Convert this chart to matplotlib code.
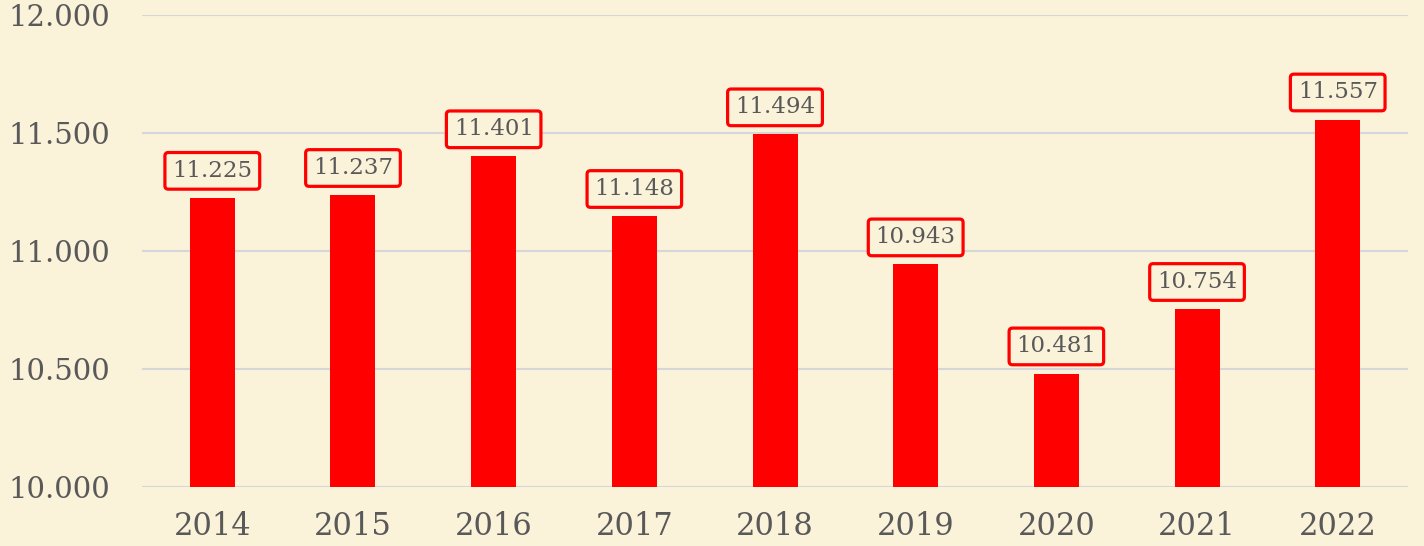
import matplotlib
matplotlib.use("Agg")
import matplotlib.pyplot as plt
from matplotlib.ticker import FuncFormatter

years = ["2014", "2015", "2016", "2017", "2018", "2019", "2020", "2021", "2022"]
values = [11225, 11237, 11401, 11148, 11494, 10943, 10481, 10754, 11557]

bg = "#FBF2DA"
text_color = "#595959"
bar_color = "#FF0000"
grid_color = "#D6D6D9"

plt.rcParams['font.family'] = ['DejaVu Serif']

fig = plt.figure(figsize=(14.24, 5.46), dpi=100, facecolor=bg)
ax = fig.add_axes([0.0997, 0.108, 0.8891, 0.8645])
ax.set_facecolor(bg)

x = range(len(years))
ax.bar(x, values, width=0.32, color=bar_color, zorder=3)

ax.set_ylim(10000, 12000)
ax.set_xlim(-0.5, len(years) - 0.5)
ax.set_yticks([10000, 10500, 11000, 11500, 12000])
ax.yaxis.set_major_formatter(FuncFormatter(lambda v, p: f"{int(v):,}".replace(",", ".")))
ax.set_xticks(list(x))
ax.set_xticklabels(years)
ax.tick_params(axis='both', length=0, colors=text_color)
ax.tick_params(axis='y', pad=23, labelsize=21)
ax.tick_params(axis='x', pad=17, labelsize=22)

ax.grid(axis='y', color=grid_color, linewidth=1.5, zorder=0)
for s in ax.spines.values():
    s.set_visible(False)

for xi, v in zip(x, values):
    ax.annotate(f"{v:,}".replace(",", "."), xy=(xi, v), xytext=(0, 19.5),
                textcoords='offset points', ha='center', va='center',
                fontsize=16.5, color=text_color, zorder=5,
                bbox=dict(boxstyle='round,pad=0.32,rounding_size=0.15',
                          facecolor=bg, edgecolor=bar_color, linewidth=2.3))

fig.savefig("out.png", dpi=100, facecolor=bg)
